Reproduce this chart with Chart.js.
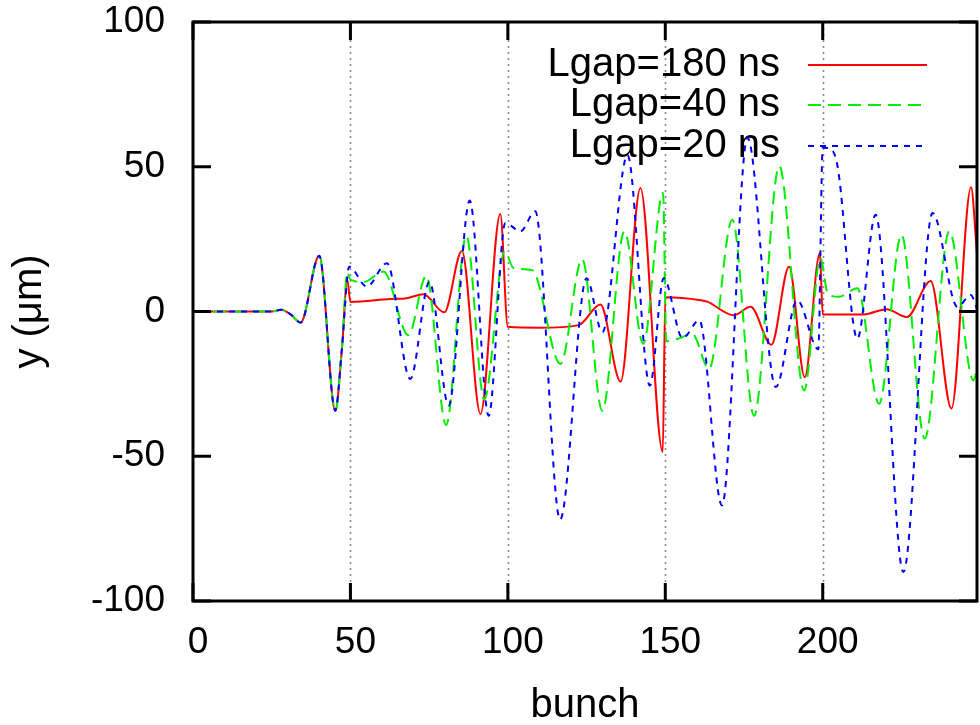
<!DOCTYPE html>
<html><head><meta charset="utf-8">
<script src="https://cdn.jsdelivr.net/npm/chart.js@4"></script>
<style>html,body{margin:0;padding:0;background:#fff;}</style>
</head><body>
<canvas id="c" width="980" height="725"></canvas>
<script>
// ---- data ----
const seriesLabels = ['Lgap=180 ns', 'Lgap=40 ns', 'Lgap=20 ns'];
const xTicks = [0, 50, 100, 150, 200];
const yTicks = [-100, -50, 0, 50, 100];
const xTitle = 'bunch';
const yTitle = 'y (\u03bcm)';

const redX = [0, 25, 28, 31, 34.2, 40.1, 45.2, 47.3, 49, 50, 62.6, 67.9, 73.2, 79.8, 85.4, 91.3, 97.6, 100, 110, 122.5, 129.4, 135.8, 142.1, 149.2, 150, 161.2, 163.3, 171.8, 177.1, 183.7, 189.3, 194.3, 199.1, 200, 213, 220.3, 226.7, 234.3, 240.9, 247.1, 249];
const redY = [0, 0, 0.6, -1, -3.8, 19.3, -34.3, -12.8, 11, 3.3, 4.3, 4.6, 6.0, -0.3, 20.9, -35.4, 33.7, -5.3, -5.6, -4.7, 2.4, -24.2, 42.7, -48.5, 4.9, 3.9, 3.4, -1.3, 1.6, -11.5, 15.5, -22.7, 20.1, -1, -1, 0.8, -1.9, 10.5, -33.5, 42.9, 20];

const greenX = [0, 25, 28, 31, 34.2, 40.1, 45.2, 47.3, 49, 50, 54.2, 60.5, 68.4, 74.1, 80.4, 86.8, 92.5, 99, 101.9, 107.7, 116.7, 123.6, 130, 137, 143, 149.3, 150.3, 154.9, 158.5, 163.9, 171.3, 178.2, 186.2, 194.1, 199.3, 201.6, 205.1, 211, 217.9, 225, 232.4, 240.2, 247.9, 249];
const greenY = [0, 0, 0.6, -1, -3.8, 19.3, -34.3, -12.8, 13.5, 11, 10.2, 13.8, -8.2, 12.3, -39.2, 26.2, -30.4, 20.7, 14.9, 14.3, -18.1, 18.1, -34.3, 27.7, -11.1, 41, -10.3, -9.1, -7.6, -19.8, 31.7, -36, 50.2, -27.3, 18.4, 6.2, 5.1, 8, -31.9, 26.5, -43.9, 27.7, -23.8, -20];

const blueX = [0, 25, 28, 31, 34.2, 40.1, 45.2, 47.3, 49.6, 55.2, 61.6, 69, 75.1, 81.2, 87.9, 93.9, 99.2, 104, 108.7, 116.6, 125, 130, 138, 145.1, 149.5, 155.5, 160.8, 168, 176.1, 185.1, 191.9, 198.6, 200, 201.5, 204.6, 211, 216.8, 225.6, 234.9, 242.8, 247, 249];
const blueY = [0, 0, 0.6, -1, -3.8, 19.3, -34.3, -12.8, 15.5, 8.6, 16.7, -23.3, 10.3, -32.5, 38.3, -36, 30.6, 27.7, 34.6, -71.9, 11.5, -7.1, 54, -25.6, 11.5, -9.2, -3, -67, 60, -26.1, 3.9, -13, 56.6, 56.5, 50.8, -9.4, 33.4, -90, 34, 1.6, 5.7, 1];

const pts = (xs, ys) => xs.map((x, i) => ({x: x, y: ys[i]}));

const FONT = 'Liberation Sans, Arial, Helvetica, sans-serif';

// frame, inward ticks, dotted verticals, key
const decor = {
  id: 'decor',
  beforeDatasetsDraw(chart) {
    const {ctx, chartArea: a, scales} = chart;
    ctx.save();
    ctx.strokeStyle = '#8a8a8a';
    ctx.lineWidth = 1.6;
    ctx.setLineDash([2, 4]);
    xTicks.forEach(v => {
      if (v === 0) return;
      const px = Math.round(scales.x.getPixelForValue(v)) + 0.5;
      ctx.beginPath(); ctx.moveTo(px, a.top); ctx.lineTo(px, a.bottom); ctx.stroke();
    });
    ctx.setLineDash([]);
    const ds = chart.data.datasets;
    const rowY = [a.top + 43, a.top + 83, a.top + 124];
    ctx.font = '40px ' + FONT;
    ctx.fillStyle = '#000';
    ctx.textAlign = 'right';
    ctx.textBaseline = 'middle';
    ds.forEach((d, i) => {
      ctx.fillText(d.label, a.right - 197, rowY[i]);
      ctx.strokeStyle = d.borderColor;
      ctx.lineWidth = d.borderWidth;
      ctx.setLineDash(d.borderDash || []);
      ctx.beginPath();
      ctx.moveTo(a.right - 169, rowY[i]);
      ctx.lineTo(a.right - 50, rowY[i]);
      ctx.stroke();
    });
    ctx.restore();
  },
  afterDraw(chart) {
    const {ctx, chartArea: a, scales} = chart;
    ctx.save();
    ctx.strokeStyle = '#000';
    ctx.lineWidth = 3;
    ctx.setLineDash([]);
    ctx.strokeRect(a.left, a.top, a.right - a.left, a.bottom - a.top);
    const L = 18;
    ctx.beginPath();
    xTicks.forEach(v => {
      const px = scales.x.getPixelForValue(v);
      ctx.moveTo(px, a.bottom); ctx.lineTo(px, a.bottom - L);
      ctx.moveTo(px, a.top); ctx.lineTo(px, a.top + L);
    });
    yTicks.forEach(v => {
      const py = scales.y.getPixelForValue(v);
      ctx.moveTo(a.left, py); ctx.lineTo(a.left + L, py);
      ctx.moveTo(a.right, py); ctx.lineTo(a.right - L, py);
    });
    ctx.stroke();
    ctx.restore();
  }
};

const common = {fill: false, pointRadius: 0, borderWidth: 2, cubicInterpolationMode: 'monotone'};

new Chart(document.getElementById('c'), {
  type: 'line',
  data: {
    datasets: [
      Object.assign({label: seriesLabels[0], data: pts(redX, redY), borderColor: '#ff0000', order: 3}, common),
      Object.assign({label: seriesLabels[1], data: pts(greenX, greenY), borderColor: '#00ee00', borderDash: [13, 7], order: 2}, common),
      Object.assign({label: seriesLabels[2], data: pts(blueX, blueY), borderColor: '#0000ff', borderDash: [6, 6], order: 1}, common)
    ]
  },
  options: {
    responsive: false,
    animation: false,
    devicePixelRatio: 1,
    layout: {padding: {top: 22, right: 3, left: 0, bottom: 0}},
    plugins: {legend: {display: false}, tooltip: {enabled: false}},
    scales: {
      x: {
        type: 'linear', min: 0, max: 249,
        afterBuildTicks: s => { s.ticks = xTicks.map(v => ({value: v})); },
        afterFit: s => { s.height = 124; s.paddingLeft = 0; s.paddingRight = 0; },
        grid: {display: false, drawTicks: false},
        border: {display: false},
        ticks: {color: '#000', font: {family: FONT, size: 37}, padding: 20, labelOffset: 5, maxRotation: 0, autoSkip: false},
        title: {display: true, text: xTitle, color: '#000', font: {family: FONT, size: 40}, padding: {top: 0, bottom: -5}}
      },
      y: {
        type: 'linear', min: -100, max: 100,
        afterBuildTicks: s => { s.ticks = yTicks.map(v => ({value: v})); },
        afterFit: s => { s.width = 193; s.paddingTop = 0; s.paddingBottom = 0; },
        grid: {display: false, drawTicks: false},
        border: {display: false},
        ticks: {color: '#000', font: {family: FONT, size: 37}, padding: 28, autoSkip: false},
        title: {display: true, text: yTitle, color: '#000', font: {family: FONT, size: 40}, padding: {top: 6, bottom: 0}}
      }
    }
  },
  plugins: [decor]
});
</script>
</body></html>
